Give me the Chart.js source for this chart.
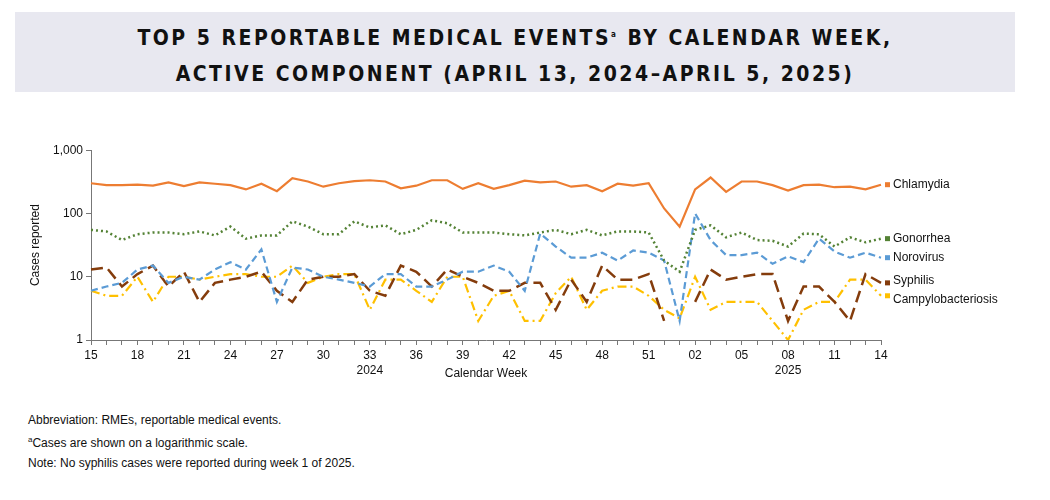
<!DOCTYPE html>
<html><head><meta charset="utf-8">
<script src="https://cdn.jsdelivr.net/npm/chart.js@4/dist/chart.umd.min.js"></script>
<style>
body{margin:0;width:1050px;height:500px;background:#fff;font-family:"Liberation Sans",Arial,sans-serif;position:relative;overflow:hidden}
#title{position:absolute;left:15px;top:12px;width:1000px;height:80px;background:#e8e8f0;text-align:center;font-family:"Liberation Sans Narrow","DejaVu Sans Condensed",sans-serif;font-weight:bold;font-size:21px;letter-spacing:2.5px;line-height:36px;padding-top:5px;box-sizing:border-box;color:#111}
#wrap{position:absolute;left:0;top:140px;width:1050px;height:250px}
#notes{position:absolute;left:28px;top:410px;font-size:12px;color:#111;line-height:20px}
sup{font-size:8px}
</style></head><body>
<div id="title">TOP 5 REPORTABLE MEDICAL EVENTS<sup>a</sup> BY CALENDAR WEEK,<br>ACTIVE COMPONENT (APRIL 13, 2024–APRIL 5, 2025)</div>
<div id="wrap"><canvas id="c"></canvas></div>
<div id="notes">Abbreviation: RMEs, reportable medical events.<br><sup>a</sup>Cases are shown on a logarithmic scale.<br>Note: No syphilis cases were reported during week 1 of 2025.</div>
<script>
var weeks = [];
for (var w = 15; w <= 52; w++) weeks.push(String(w));
for (var w = 1; w <= 14; w++) weeks.push(w < 10 ? '0' + w : String(w));

var chlamydia = [300,280,280,285,275,310,270,310,295,280,240,295,225,360,320,265,300,325,335,320,250,275,335,335,245,300,245,280,330,310,320,265,280,225,295,275,300,120,62,240,370,220,320,320,280,230,280,285,260,265,240,285];
var gonorrhea = [55,52,38,47,50,50,47,52,45,62,40,45,45,75,62,47,47,75,60,65,47,55,78,70,50,50,50,47,45,50,55,47,55,45,52,52,50,18,12,55,65,42,50,38,37,30,48,47,30,42,35,40];
var norovirus = [6,7,8,13,15,8,10,9,13,17,13,27,4,14,13,10,9,8,7,11,11,7,7,9,12,12,15,12,6,48,30,20,20,24,18,26,24,18,2,100,38,22,22,24,16,21,17,40,25,20,24,20];
var syphilis = [13,14,7,11,15,7,12,4,8,9,10,12,6,4,9,10,10,11,6,5,15,12,7,13,10,8,6,6,8,8,3,9,4,15,9,9,11,2,null,4,13,9,10,11,11,2,7,7,4,2,11,8];
var campylobacteriosis = [6,5,5,10,4,10,10,9,10,11,11,10,10,15,8,10,11,11,3,9,9,6,4,10,10,2,5,6,2,2,5.5,10,3,6,7,7,5,3,2.2,10,3,4,4,4,2,1,3,4,4,9,9,5];
var yTicks = [1,10,100,1000];

function ds(label, data, color, dash, width) {
	return { label: label, data: data, borderColor: color, backgroundColor: color, borderDash: dash,
		borderWidth: width || 2.2, pointRadius: 0, tension: 0, spanGaps: false };
}

var sideLabels = {
	id: 'sideLabels',
	afterDatasetsDraw: function(chart) {
		var ctx = chart.ctx, x = chart.scales.x, y = chart.scales.y;
		var offs = { 'Chlamydia': 0, 'Gonorrhea': 0, 'Norovirus': 0, 'Syphilis': -2, 'Campylobacteriosis': 4 };
		ctx.save();
		ctx.font = '12px "Liberation Sans"';
		ctx.textBaseline = 'middle';
		chart.data.datasets.forEach(function(d) {
			var last = d.data[d.data.length - 1];
			var px = x.getPixelForValue(d.data.length - 1), py = y.getPixelForValue(last);
			ctx.fillStyle = d.borderColor;
			ctx.fillRect(px + 4, py - 2.5, 5, 5);
			ctx.fillStyle = '#111';
			ctx.fillText(d.label, px + 12, py + offs[d.label]);
		});
		ctx.textAlign = 'center';
		ctx.fillText('2024', x.getPixelForValue(18), 231);
		ctx.fillText('2025', x.getPixelForValue(45), 231);
		ctx.fillText('Calendar Week', x.getPixelForValue(25.5), 234);
		ctx.restore();
	}
};

new Chart(document.getElementById('c'), {
	type: 'line',
	data: {
		labels: weeks,
		datasets: [
			ds('Chlamydia', chlamydia, '#ed7d31', [], 2.2),
			ds('Gonorrhea', gonorrhea, '#548235', [2, 3], 2.5),
			ds('Norovirus', norovirus, '#5b9bd5', [7, 4], 2.2),
			ds('Syphilis', syphilis, '#843c0c', [12, 6], 2.5),
			ds('Campylobacteriosis', campylobacteriosis, '#ffc000', [9, 4, 2, 4], 2.2)
		]
	},
	options: {
		responsive: true, maintainAspectRatio: false, animation: false,
		layout: { padding: { left: 28, right: 169, top: 9, bottom: 0 } },
		plugins: { legend: { display: false }, tooltip: { enabled: false } },
		scales: {
			x: {
				offset: false,
				afterFit: function(s) { s.height = 50; },
				grid: { drawOnChartArea: false, tickLength: 5, color: '#777' },
				border: { color: '#777' },
				ticks: { autoSkip: false, maxRotation: 0, color: '#111', font: { size: 12, family: 'Liberation Sans' },
					callback: function(v, i) { return i % 3 === 0 ? weeks[i] : ''; } }
			},
			y: {
				type: 'logarithmic', min: 1, max: 1000,
				afterFit: function(s) { s.width = 63; },
				afterBuildTicks: function(s) { s.ticks = yTicks.map(function(v) { return { value: v }; }); },
				grid: { drawOnChartArea: false, tickLength: 5, color: '#777' },
				border: { color: '#777' },
				title: { display: true, text: 'Cases reported', color: '#111', padding: 0, font: { size: 12, family: 'Liberation Sans' } },
				ticks: { color: '#111', font: { size: 12, family: 'Liberation Sans' },
					callback: function(v) { return v.toLocaleString('en-US'); } }
			}
		}
	},
	plugins: [sideLabels]
});
</script>
</body></html>
